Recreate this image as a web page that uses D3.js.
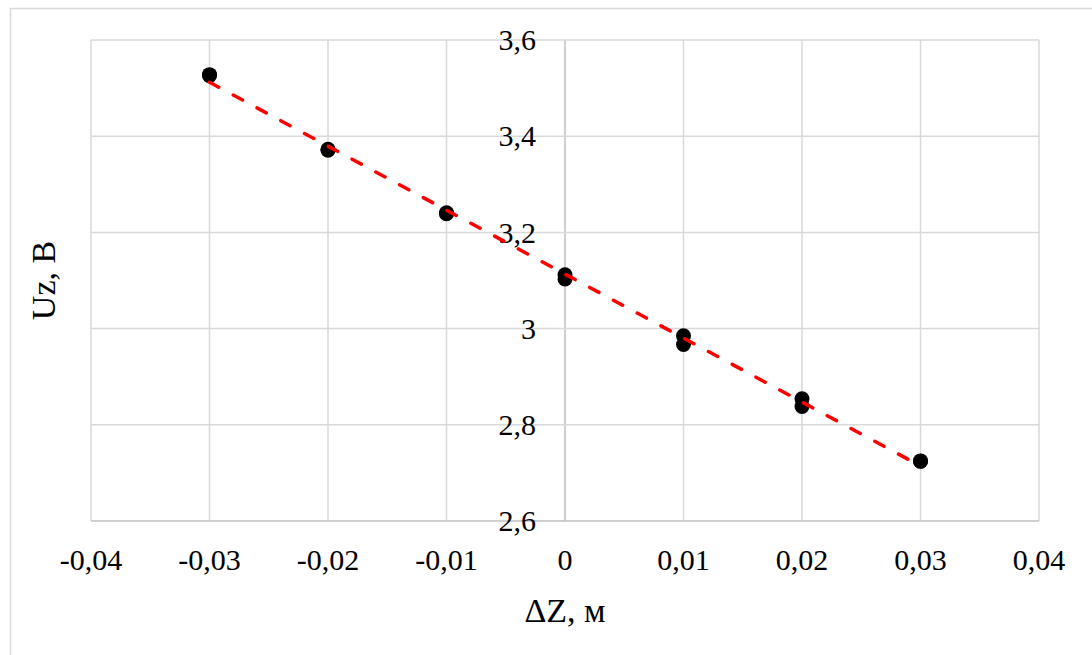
<!DOCTYPE html>
<html>
<head>
<meta charset="utf-8">
<script src="https://cdn.jsdelivr.net/npm/d3@7"></script>
<style>
  body { margin: 0; background: #fff; }
</style>
</head>
<body>
<div id="chart"></div>
<script>
// measured points (two runs per position)
const dz = [-0.03, -0.03, -0.02, -0.02, -0.01, -0.01, 0, 0, 0.01, 0.01, 0.02, 0.02, 0.03, 0.03];
const uz = [3.528, 3.526, 3.373, 3.371, 3.241, 3.239, 3.112, 3.103, 2.985, 2.967, 2.854, 2.838, 2.725, 2.724];

const xTicks = [-0.04, -0.03, -0.02, -0.01, 0, 0.01, 0.02, 0.03, 0.04];
const yTicks = [2.6, 2.8, 3, 3.2, 3.4, 3.6];
const xTitle = "ΔZ, м";
const yTitle = "Uz, В";

const width = 1092, height = 655;
const margin = {top: 40, right: 53, bottom: 134, left: 91};
const w = width - margin.left - margin.right;
const h = height - margin.top - margin.bottom;
const font = "'Liberation Serif', 'Times New Roman', 'DejaVu Serif', serif";

const fmt = d => String(+d.toFixed(2)).replace(".", ",");

const svg = d3.select("#chart").append("svg")
    .attr("width", width)
    .attr("height", height)
    .attr("font-family", font);

// outer chart frame (cut off at the right/bottom in the picture)
svg.append("rect")
    .attr("x", 10.5).attr("y", 8.5)
    .attr("width", 1200).attr("height", 800)
    .attr("fill", "none")
    .attr("stroke", "#d9d9d9")
    .attr("stroke-width", 1.5);

const g = svg.append("g")
    .attr("transform", "translate(" + margin.left + "," + margin.top + ")");

const x = d3.scaleLinear().domain([-0.04, 0.04]).range([0, w]);
const y = d3.scaleLinear().domain([2.6, 3.6]).range([h, 0]);

// gridlines
g.selectAll(".vgrid")
    .data(xTicks)
    .enter().append("line")
    .attr("x1", d => x(d)).attr("x2", d => x(d))
    .attr("y1", 0).attr("y2", h)
    .attr("stroke", d => d === 0 ? "#bfbfbf" : "#d9d9d9")
    .attr("stroke-width", 1.5);

g.selectAll(".hgrid")
    .data(yTicks)
    .enter().append("line")
    .attr("x1", 0).attr("x2", w)
    .attr("y1", d => y(d)).attr("y2", d => y(d))
    .attr("stroke", d => d === 2.6 ? "#bfbfbf" : "#d9d9d9")
    .attr("stroke-width", 1.5);

// x tick labels along the bottom
g.selectAll(".xlab")
    .data(xTicks)
    .enter().append("text")
    .attr("x", d => x(d))
    .attr("y", h + 49)
    .attr("text-anchor", "middle")
    .attr("font-family", font)
    .attr("font-size", 30)
    .text(fmt);

// y tick labels next to the vertical axis at x = 0
g.selectAll(".ylab")
    .data(yTicks)
    .enter().append("text")
    .attr("x", x(0) - 29)
    .attr("y", d => y(d))
    .attr("dy", "0.34em")
    .attr("text-anchor", "end")
    .attr("font-family", font)
    .attr("font-size", 30)
    .text(fmt);

// points
const pts = dz.map((d, i) => ({x: d, y: uz[i]}));
g.selectAll(".pt")
    .data(pts)
    .enter().append("circle")
    .attr("cx", d => x(d.x))
    .attr("cy", d => y(d.y))
    .attr("r", 7.5)
    .attr("fill", "#000");

// linear trendline (least squares)
const mx = d3.mean(dz), my = d3.mean(uz);
const slope = d3.sum(pts, d => (d.x - mx) * (d.y - my)) / d3.sum(pts, d => (d.x - mx) ** 2);
const icpt = my - slope * mx;
const ext = d3.extent(dz);
g.append("line")
    .attr("x1", x(ext[0])).attr("y1", y(icpt + slope * ext[0]))
    .attr("x2", x(ext[1])).attr("y2", y(icpt + slope * ext[1]))
    .attr("stroke", "#ff0000")
    .attr("stroke-width", 3.5)
    .attr("stroke-linecap", "round")
    .attr("stroke-dasharray", "10.5,16.5");

// axis titles
svg.append("text")
    .attr("x", margin.left + x(0))
    .attr("y", 622)
    .attr("text-anchor", "middle")
    .attr("font-family", font)
    .attr("font-size", 34)
    .text(xTitle);

svg.append("text")
    .attr("transform", "translate(55," + (margin.top + h / 2) + ")rotate(-90)")
    .attr("text-anchor", "middle")
    .attr("font-family", font)
    .attr("font-size", 34)
    .text(yTitle);
</script>
</body>
</html>
